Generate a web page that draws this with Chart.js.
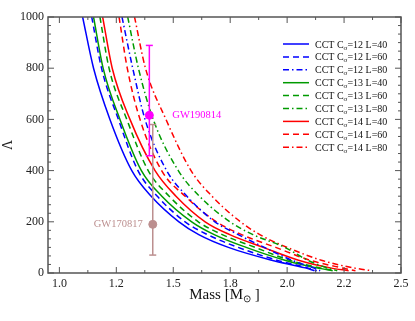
<!DOCTYPE html>
<html>
<head>
<meta charset="utf-8">
<script src="https://cdn.jsdelivr.net/npm/chart.js@4.4.1/dist/chart.umd.min.js"></script>
<style>
  html, body { margin: 0; padding: 0; background: #fff; }
  #wrap { width: 415px; height: 321px; }
</style>
</head>
<body>
<div id="wrap"><canvas id="massLambdaChart" width="415" height="321"></canvas></div>
<script>
// axis ticks (labels printed with one decimal, as in the original)
const massTicks = [1.0, 1.25, 1.5, 1.75, 2.0, 2.25, 2.5];
const massTickLabels = ['1.0', '1.2', '1.5', '1.8', '2.0', '2.2', '2.5'];
const lambdaTicks = [0, 200, 400, 600, 800, 1000];

// legend parts for the 9 CCT curves
const curveCsigma = [12, 12, 12, 13, 13, 13, 14, 14, 14];
const curveL = [40, 60, 80, 40, 60, 80, 40, 60, 80];

// Lambda levels the curves were read at (last = end of curve at max mass)
const lambdaLevels = [1000, 800, 600, 400, 300, 200, 150, 100, 50, 20, 9];

// mass [M_sun] where each curve crosses the levels above
const massC12L40 = [1.102, 1.150, 1.222, 1.318, 1.403, 1.525, 1.612, 1.742, 1.932, 2.080, 2.120];
const massC12L60 = [1.142, 1.185, 1.259, 1.345, 1.430, 1.552, 1.650, 1.785, 1.955, 2.090, 2.130];
const massC12L80 = [1.275, 1.322, 1.376, 1.471, 1.560, 1.683, 1.785, 1.900, 2.020, 2.115, 2.145];
const massC13L40 = [1.150, 1.192, 1.266, 1.360, 1.450, 1.581, 1.680, 1.820, 1.990, 2.130, 2.200];
const massC13L60 = [1.178, 1.218, 1.296, 1.390, 1.482, 1.610, 1.715, 1.860, 2.010, 2.145, 2.210];
const massC13L80 = [1.300, 1.347, 1.412, 1.522, 1.615, 1.749, 1.850, 1.990, 2.090, 2.175, 2.220];
const massC14L40 = [1.190, 1.232, 1.310, 1.420, 1.512, 1.640, 1.748, 1.895, 2.050, 2.190, 2.270];
const massC14L60 = [1.262, 1.298, 1.354, 1.449, 1.552, 1.690, 1.800, 1.950, 2.100, 2.240, 2.300];
const massC14L80 = [1.330, 1.378, 1.468, 1.578, 1.670, 1.795, 1.880, 2.000, 2.150, 2.290, 2.370];

const curveMasses = [massC12L40, massC12L60, massC12L80, massC13L40, massC13L60, massC13L80,
                     massC14L40, massC14L60, massC14L80];

// observational constraints on Lambda_1.4
const gwNames = ['GW190814', 'GW170817'];
const gwMass = [1.395, 1.41];
const gwLambda = [616, 190];
const gwUpper = [889, 580];
const gwLower = [458, 70];
const gwColors = ['#ff00ff', '#bc8f8f'];

const csColors = { 12: '#0000ff', 13: '#009a00', 14: '#ff0000' };
const lDashes = { 40: [], 60: [6, 4], 80: [6, 3, 1.5, 3] };
const serif = "'Liberation Serif', 'Times New Roman', serif";

const datasets = [];

curveMasses.forEach((masses, i) => {
    datasets.push({
        label: 'CCT C\u03c3=' + curveCsigma[i] + ' L=' + curveL[i],
        data: masses.map((m, k) => ({ x: m, y: lambdaLevels[k] })),
        showLine: true,
        borderColor: csColors[curveCsigma[i]],
        borderWidth: 1.5,
        borderDash: lDashes[curveL[i]],
        pointRadius: 0,
        cubicInterpolationMode: 'monotone',
        order: 2
    });
});

gwNames.forEach((name, i) => {
    // error bar with caps
    datasets.push({
        label: name + ' bar',
        data: [{ x: gwMass[i], y: gwLower[i] }, { x: gwMass[i], y: gwUpper[i] }],
        showLine: true,
        borderColor: gwColors[i],
        borderWidth: 1.5,
        pointStyle: 'line',
        pointRadius: 3.5,
        pointBorderColor: gwColors[i],
        pointBorderWidth: 1.5,
        order: 1
    });
    // central value
    datasets.push({
        label: name,
        data: [{ x: gwMass[i], y: gwLambda[i] }],
        pointStyle: 'circle',
        pointRadius: 4,
        pointBackgroundColor: gwColors[i],
        pointBorderColor: gwColors[i],
        order: 0
    });
});

// frame, inward ticks, legend, labels
const decorPlugin = {
    id: 'decor',
    afterDatasetsDraw(chart) {
        const ctx = chart.ctx;
        const a = chart.chartArea;
        const xs = chart.scales.x;
        const ys = chart.scales.y;
        ctx.save();

        ctx.strokeStyle = '#555';
        ctx.lineWidth = 1.5;
        ctx.strokeRect(a.left, a.top, a.right - a.left, a.bottom - a.top);

        ctx.lineWidth = 1;
        ctx.beginPath();
        // x ticks (major + one minor between)
        massTicks.forEach((v, i) => {
            const px = xs.getPixelForValue(v);
            ctx.moveTo(px, a.bottom); ctx.lineTo(px, a.bottom - 6);
            ctx.moveTo(px, a.top); ctx.lineTo(px, a.top + 6);
            if (i < massTicks.length - 1) {
                const mx = xs.getPixelForValue((v + massTicks[i + 1]) / 2);
                ctx.moveTo(mx, a.bottom); ctx.lineTo(mx, a.bottom - 3);
                ctx.moveTo(mx, a.top); ctx.lineTo(mx, a.top + 3);
            }
        });
        // y ticks (major + five minor between)
        lambdaTicks.forEach((v, i) => {
            const py = ys.getPixelForValue(v);
            ctx.moveTo(a.left, py); ctx.lineTo(a.left + 6, py);
            ctx.moveTo(a.right, py); ctx.lineTo(a.right - 6, py);
            if (i < lambdaTicks.length - 1) {
                const step = (lambdaTicks[i + 1] - v) / 6;
                for (let k = 1; k < 6; k++) {
                    const my = ys.getPixelForValue(v + k * step);
                    ctx.moveTo(a.left, my); ctx.lineTo(a.left + 3, my);
                    ctx.moveTo(a.right, my); ctx.lineTo(a.right - 3, my);
                }
            }
        });
        ctx.stroke();

        // legend
        const lx = 283, ly = 44, dy = 12.9;
        curveCsigma.forEach((cs, i) => {
            const y = ly + i * dy;
            ctx.strokeStyle = csColors[cs];
            ctx.lineWidth = 1.5;
            ctx.setLineDash(lDashes[curveL[i]]);
            ctx.beginPath();
            ctx.moveTo(lx, y); ctx.lineTo(lx + 26, y);
            ctx.stroke();
            ctx.setLineDash([]);

            ctx.fillStyle = '#111';
            ctx.textBaseline = 'alphabetic';
            ctx.textAlign = 'left';
            let tx = lx + 32;
            ctx.font = '10px ' + serif;
            ctx.fillText('CCT C', tx, y + 3.5);
            tx += ctx.measureText('CCT C').width;
            ctx.font = '7px ' + serif;
            ctx.fillText('\u03c3', tx, y + 5.5);
            tx += ctx.measureText('\u03c3').width;
            ctx.font = '10px ' + serif;
            ctx.fillText('=' + cs + ' L=' + curveL[i], tx, y + 3.5);
        });

        // GW labels
        ctx.font = '10.5px ' + serif;
        ctx.textBaseline = 'middle';
        ctx.fillStyle = gwColors[0];
        ctx.textAlign = 'left';
        ctx.fillText(gwNames[0], xs.getPixelForValue(gwMass[0]) + 23, ys.getPixelForValue(gwLambda[0]));
        ctx.fillStyle = gwColors[1];
        ctx.textAlign = 'right';
        ctx.fillText(gwNames[1], xs.getPixelForValue(gwMass[1]) - 10, ys.getPixelForValue(gwLambda[1]));

        // x axis title with subscript sun symbol
        ctx.fillStyle = '#111';
        ctx.textAlign = 'left';
        ctx.textBaseline = 'alphabetic';
        ctx.font = '15px ' + serif;
        const t1 = 'Mass [M', t3 = ' ]';
        const w1 = ctx.measureText(t1).width, w3 = ctx.measureText(t3).width;
        ctx.font = '10px ' + serif;
        const w2 = ctx.measureText('\u2299').width;
        let tx = (a.left + a.right) / 2 - (w1 + w2 + w3) / 2;
        ctx.font = '15px ' + serif;
        ctx.fillText(t1, tx, 299);
        ctx.font = '10px ' + serif;
        ctx.fillText('\u2299', tx + w1, 302);
        ctx.font = '15px ' + serif;
        ctx.fillText(t3, tx + w1 + w2, 299);

        ctx.restore();
    }
};

new Chart(document.getElementById('massLambdaChart'), {
    type: 'scatter',
    data: { datasets: datasets },
    plugins: [decorPlugin],
    options: {
        responsive: false,
        animation: false,
        layout: { padding: { top: 17, right: 14, left: 0, bottom: 0 } },
        plugins: {
            legend: { display: false },
            tooltip: { enabled: false }
        },
        scales: {
            x: {
                type: 'linear',
                min: 0.95,
                max: 2.5,
                afterBuildTicks: s => { s.ticks = massTicks.map(v => ({ value: v })); },
                afterFit: s => { s.height = 48; },
                grid: { display: false, drawTicks: false },
                border: { display: false },
                ticks: {
                    padding: 4,
                    maxRotation: 0,
                    color: '#222',
                    font: { family: serif, size: 12 },
                    callback: v => massTickLabels[massTicks.indexOf(v)]
                }
            },
            y: {
                min: 0,
                max: 1000,
                afterBuildTicks: s => { s.ticks = lambdaTicks.map(v => ({ value: v })); },
                afterFit: s => { s.width = 48; },
                grid: { display: false, drawTicks: false },
                border: { display: false },
                title: {
                    display: true,
                    text: '\u039b',
                    color: '#222',
                    font: { family: serif, size: 14 },
                    padding: { top: 0, bottom: 0 }
                },
                ticks: {
                    padding: 4,
                    color: '#222',
                    font: { family: serif, size: 12 },
                    callback: v => String(v)
                }
            }
        }
    }
});
</script>
</body>
</html>
